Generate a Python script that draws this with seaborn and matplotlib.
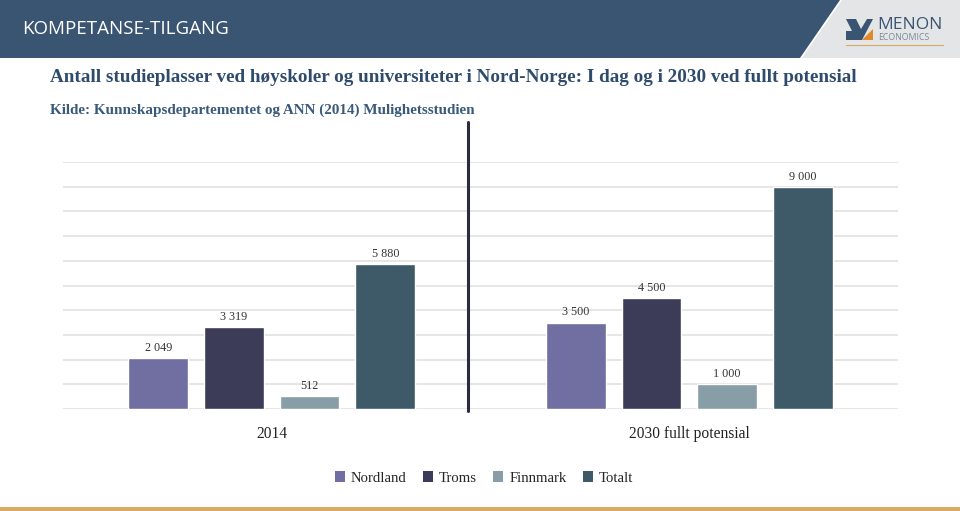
import matplotlib
matplotlib.use("Agg")
import matplotlib.pyplot as plt
from matplotlib.patches import Polygon, Rectangle
from matplotlib.lines import Line2D
import seaborn as sns
import pandas as pd

# ---- data ----
periods = ["2014", "2030 fullt potensial"]
regions = ["Nordland", "Troms", "Finnmark", "Totalt"]
values_2014 = [2049, 3319, 512, 5880]
values_2030 = [3500, 4500, 1000, 9000]
colors = ["#716ea2", "#3c3c58", "#889ea6", "#3e5a69"]

title = "Antall studieplasser ved høyskoler og universiteter i Nord-Norge: I dag og i 2030 ved fullt potensial"
subtitle = "Kilde: Kunnskapsdepartementet og ANN (2014) Mulighetsstudien"
header = "KOMPETANSE-TILGANG"

rows = []
for p, vals in zip(periods, [values_2014, values_2030]):
    for r, v in zip(regions, vals):
        rows.append({"Periode": p, "Region": r, "Antall": v})
df = pd.DataFrame(rows)

sns.set_theme(style="white")
serif = ["Liberation Serif", "DejaVu Serif"]
plt.rcParams["font.family"] = serif

W, H = 960, 511
fig = plt.figure(figsize=(9.6, 5.11), dpi=100)
fig.patch.set_facecolor("white")

# overlay in pixel coordinates
ov = fig.add_axes([0, 0, 1, 1], zorder=0)
ov.set_xlim(0, W)
ov.set_ylim(H, 0)
ov.axis("off")

# header band
ov.add_patch(Polygon([[0, 0], [840, 0], [800, 58], [0, 58]], closed=True,
                     facecolor="#3a5572", edgecolor="none"))
ov.add_patch(Polygon([[842, 0], [W, 0], [W, 58], [802, 58]], closed=True,
                     facecolor="#e4e5e7", edgecolor="none"))
ov.text(22, 29, header, color="white", fontsize=13.5, family=["Open Sans", "DejaVu Sans"],
        va="center", ha="left")
# logo
ov.add_patch(Polygon([[846, 19], [856, 19], [861, 29], [867, 19], [873, 19], [862, 40], [846, 40], [846, 31], [852, 31]],
                     closed=True, facecolor="#3a5572", edgecolor="none"))
ov.add_patch(Polygon([[862, 40], [873, 29], [873, 40]], closed=True, facecolor="#e08a2a", edgecolor="none"))
ov.text(877, 25, "MENON", color="#3a5572", fontsize=12.5, family=["Open Sans", "DejaVu Sans"],
        va="center", ha="left")
ov.text(878, 37, "ECONOMICS", color="#7a8a99", fontsize=6.3, family=["Open Sans", "DejaVu Sans"],
        va="center", ha="left")
ov.add_line(Line2D([846, 943], [45, 45], color="#d9a96a", lw=0.8))

# titles
ov.text(50, 77, title, color="#2f4b6c", fontsize=13.8, fontweight="bold", va="center", ha="left")
ov.text(50, 110, subtitle, color="#3a5a7a", fontsize=10.9, fontweight="bold", va="center", ha="left")

# bottom line
ov.add_patch(Rectangle((0, 507), W, 4, facecolor="#d9a96a", edgecolor="none"))

# ---- chart ----
ax = fig.add_axes([63 / W, (H - 409) / H, (898 - 63) / W, (409 - 162) / H], zorder=2)
ax.patch.set_alpha(0)
sns.barplot(data=df, x="Periode", y="Antall", hue="Region", hue_order=regions,
            palette=colors, width=0.725, gap=0.21, saturation=1, ax=ax, legend=False)
ax.set_ylim(0, 10000)
ax.set_xlim(-0.5, 1.5)
ax.set_yticks(range(0, 10001, 1000))
ax.yaxis.grid(True, color="#e4e4e4", lw=1.3)
ax.set_axisbelow(True)
for s in ax.spines.values():
    s.set_visible(False)
ax.tick_params(axis="y", left=False, labelleft=False)
ax.tick_params(axis="x", bottom=False, labelsize=11.2, labelcolor="#222222", pad=11.7)
ax.set_xlabel("")
ax.set_ylabel("")
for lbl in ax.get_xticklabels():
    lbl.set_va("center")

def fmt(v):
    return f"{int(round(v)):,}".replace(",", " ")

for cont in ax.containers:
    ax.bar_label(cont, labels=[fmt(b.get_height()) for b in cont], padding=3,
                 fontsize=8.7, color="#333333")

# divider
ov2 = fig.add_axes([0, 0, 1, 1], zorder=3)
ov2.set_xlim(0, W)
ov2.set_ylim(H, 0)
ov2.axis("off")
ov2.add_line(Line2D([468, 468], [122, 411], color="#2c2c40", lw=2.2))

# legend
handles = [Rectangle((0, 0), 1, 1, facecolor=c, edgecolor="none") for c in colors]
fig.legend(handles, regions, loc="center", bbox_to_anchor=(484 / W, 1 - 478 / H), ncol=4,
           frameon=False, fontsize=10.6, handlelength=0.7, handleheight=0.7,
           handletextpad=0.4, columnspacing=1.1)

fig.savefig("out.png", dpi=100, facecolor="white")
